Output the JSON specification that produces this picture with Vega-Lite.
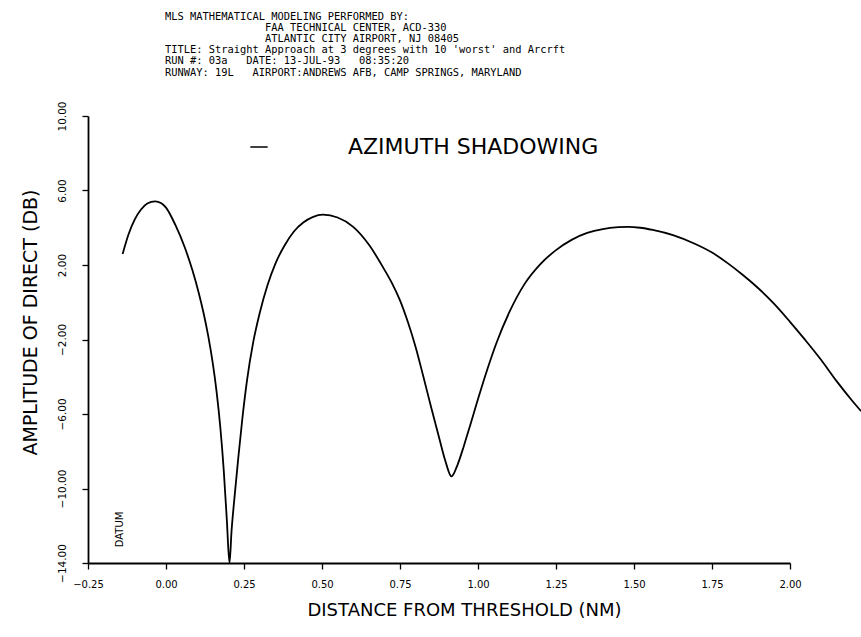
{
  "$schema": "https://vega.github.io/schema/vega-lite/v6.json",
  "width": 702,
  "height": 447,
  "autosize": {"type": "none"},
  "padding": {"left": 88, "top": 116, "right": 71, "bottom": 74},
  "background": "white",
  "config": {
    "font": "DejaVu Sans",
    "view": {"stroke": null},
    "axis": {"grid": false, "domainColor": "black", "tickColor": "black", "labelColor": "black", "titleColor": "black", "titleFontWeight": "normal", "labelFlush": false, "labelOverlap": false}
  },
  "title": {
    "text": [
      "MLS MATHEMATICAL MODELING PERFORMED BY:",
      "\u200b\u00a0\u00a0\u00a0\u00a0\u00a0\u00a0\u00a0\u00a0\u00a0\u00a0\u00a0\u00a0\u00a0\u00a0\u00a0\u00a0FAA TECHNICAL CENTER, ACD-330",
      "\u200b\u00a0\u00a0\u00a0\u00a0\u00a0\u00a0\u00a0\u00a0\u00a0\u00a0\u00a0\u00a0\u00a0\u00a0\u00a0\u00a0ATLANTIC CITY AIRPORT, NJ 08405",
      "TITLE: Straight Approach at 3 degrees with 10 'worst' and Arcrft",
      "RUN #: 03a\u00a0\u00a0\u00a0DATE: 13-JUL-93\u00a0\u00a0\u00a008:35:20",
      "RUNWAY: 19L\u00a0\u00a0\u00a0AIRPORT:ANDREWS AFB, CAMP SPRINGS, MARYLAND"
    ],
    "anchor": "start",
    "frame": "group",
    "dx": 77,
    "fontSize": 10.4,
    "fontWeight": "normal",
    "lineHeight": 11.2,
    "offset": 23,
    "color": "black",
    "font": "DejaVu Sans Mono"
  },
  "layer": [
    {
      "data": {"values": [
        {"distance": -0.139, "amplitude": 2.59},
        {"distance": -0.12, "amplitude": 3.65},
        {"distance": -0.10, "amplitude": 4.45},
        {"distance": -0.08, "amplitude": 4.98},
        {"distance": -0.06, "amplitude": 5.30},
        {"distance": -0.035, "amplitude": 5.42},
        {"distance": -0.015, "amplitude": 5.32},
        {"distance": 0.0, "amplitude": 5.08},
        {"distance": 0.03, "amplitude": 4.15},
        {"distance": 0.06, "amplitude": 2.95},
        {"distance": 0.085, "amplitude": 1.7},
        {"distance": 0.105, "amplitude": 0.5},
        {"distance": 0.12, "amplitude": -0.55},
        {"distance": 0.135, "amplitude": -1.78},
        {"distance": 0.15, "amplitude": -3.28},
        {"distance": 0.162, "amplitude": -4.78},
        {"distance": 0.174, "amplitude": -6.7},
        {"distance": 0.185, "amplitude": -9.0},
        {"distance": 0.195, "amplitude": -11.7},
        {"distance": 0.2035, "amplitude": -14.0},
        {"distance": 0.21, "amplitude": -12.3},
        {"distance": 0.22, "amplitude": -10.4},
        {"distance": 0.232, "amplitude": -8.3},
        {"distance": 0.245, "amplitude": -6.2},
        {"distance": 0.26, "amplitude": -4.15},
        {"distance": 0.28, "amplitude": -2.1},
        {"distance": 0.30, "amplitude": -0.6},
        {"distance": 0.325, "amplitude": 0.9},
        {"distance": 0.35, "amplitude": 2.05},
        {"distance": 0.38, "amplitude": 3.05},
        {"distance": 0.41, "amplitude": 3.8},
        {"distance": 0.44, "amplitude": 4.28},
        {"distance": 0.47, "amplitude": 4.57},
        {"distance": 0.503, "amplitude": 4.70},
        {"distance": 0.55, "amplitude": 4.55},
        {"distance": 0.60, "amplitude": 4.05},
        {"distance": 0.65, "amplitude": 3.1},
        {"distance": 0.70, "amplitude": 1.75},
        {"distance": 0.725, "amplitude": 1.0},
        {"distance": 0.75, "amplitude": 0.1},
        {"distance": 0.775, "amplitude": -1.05},
        {"distance": 0.80, "amplitude": -2.4},
        {"distance": 0.825, "amplitude": -4.0},
        {"distance": 0.85, "amplitude": -5.65},
        {"distance": 0.875, "amplitude": -7.25},
        {"distance": 0.895, "amplitude": -8.5},
        {"distance": 0.915, "amplitude": -9.35},
        {"distance": 0.935, "amplitude": -8.7},
        {"distance": 0.955, "amplitude": -7.7},
        {"distance": 0.975, "amplitude": -6.6},
        {"distance": 1.0, "amplitude": -5.2},
        {"distance": 1.03, "amplitude": -3.6},
        {"distance": 1.06, "amplitude": -2.15},
        {"distance": 1.10, "amplitude": -0.55},
        {"distance": 1.15, "amplitude": 1.0},
        {"distance": 1.20, "amplitude": 2.05},
        {"distance": 1.25, "amplitude": 2.8},
        {"distance": 1.30, "amplitude": 3.35},
        {"distance": 1.35, "amplitude": 3.72},
        {"distance": 1.40, "amplitude": 3.93},
        {"distance": 1.45, "amplitude": 4.03},
        {"distance": 1.48, "amplitude": 4.05},
        {"distance": 1.52, "amplitude": 4.0},
        {"distance": 1.56, "amplitude": 3.88},
        {"distance": 1.625, "amplitude": 3.6},
        {"distance": 1.70, "amplitude": 3.1},
        {"distance": 1.753, "amplitude": 2.64},
        {"distance": 1.80, "amplitude": 2.1},
        {"distance": 1.85, "amplitude": 1.45},
        {"distance": 1.894, "amplitude": 0.82},
        {"distance": 1.95, "amplitude": -0.1},
        {"distance": 2.0, "amplitude": -1.05},
        {"distance": 2.05, "amplitude": -2.05},
        {"distance": 2.10, "amplitude": -3.1},
        {"distance": 2.15, "amplitude": -4.25},
        {"distance": 2.20, "amplitude": -5.3},
        {"distance": 2.228, "amplitude": -5.85}
      ]},
      "mark": {"type": "line", "interpolate": "monotone", "clip": false, "strokeWidth": 1.8},
      "encoding": {
        "x": {
          "field": "distance", "type": "quantitative",
          "scale": {"domain": [-0.25, 2.0], "nice": false, "zero": false},
          "axis": {
            "values": [-0.25, 0, 0.25, 0.5, 0.75, 1.0, 1.25, 1.5, 1.75, 2.0],
            "format": ".2f",
            "labelFontSize": 10,
            "tickSize": 6,
            "tickWidth": 1.3,
            "domainWidth": 1.8,
            "labelPadding": 10,
            "title": "DISTANCE FROM THRESHOLD (NM)",
            "titleFontSize": 18,
            "titleX": 376,
            "titleY": 47,
            "titleBaseline": "middle",
            "titleAlign": "center"
          }
        },
        "y": {
          "field": "amplitude", "type": "quantitative",
          "scale": {"domain": [-14, 10], "nice": false, "zero": false},
          "axis": {
            "values": [10, 8, 6, 4, 2, 0, -2, -4, -6, -8, -10, -12, -14],
            "labelExpr": "(datum.value + 14) % 4 === 0 ? format(datum.value, '.2f') : ''",
            "tickSize": {"condition": {"test": "(datum.value + 14) % 4 === 0", "value": 6}, "value": 4},
            "tickWidth": 1.3,
            "domainWidth": 1.8,
            "labelAngle": -90,
            "labelAlign": "center",
            "labelBaseline": "middle",
            "labelPadding": 20,
            "labelFontSize": 10.5,
            "title": "AMPLITUDE OF DIRECT (DB)",
            "titleFontSize": 19,
            "titleAngle": -90,
            "titleX": -58,
            "titleY": 206,
            "titleBaseline": "middle",
            "titleAlign": "center"
          }
        },
        "color": {
          "datum": "AZIMUTH SHADOWING",
          "scale": {"range": ["black"]},
          "legend": {
            "orient": "none",
            "legendX": 160,
            "legendY": 20,
            "title": null,
            "symbolType": "stroke",
            "symbolSize": 300,
            "symbolStrokeWidth": 1.5,
            "symbolStrokeColor": "black",
            "labelFontSize": 22,
            "labelOffset": 78,
            "labelLimit": 500,
            "labelColor": "black",
            "padding": 0
          }
        }
      }
    },
    {
      "data": {"values": [{"distance": -0.147, "amplitude": -12.2, "label": "DATUM"}]},
      "mark": {"type": "text", "angle": 270, "fontSize": 10, "align": "center", "baseline": "middle", "color": "black"},
      "encoding": {
        "x": {"field": "distance", "type": "quantitative"},
        "y": {"field": "amplitude", "type": "quantitative"},
        "text": {"field": "label"}
      }
    }
  ]
}
